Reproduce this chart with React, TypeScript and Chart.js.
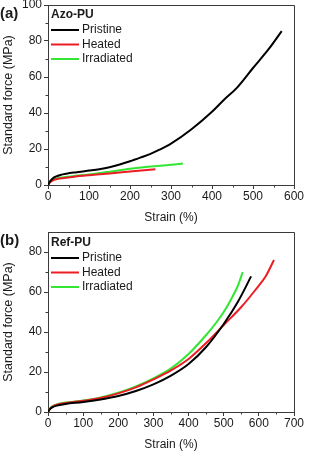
import React, { useEffect, useRef } from 'react';
import { Chart, registerables } from 'chart.js';

Chart.register(...registerables);

const FONT = "'Liberation Sans', Arial, Helvetica, sans-serif";
const AXIS = '#3a3a3a';
const TEXT = '#1a1a1a';

const seriesNames = ['Pristine', 'Heated', 'Irradiated'];
const seriesColors = ['#000000', '#ec1c24', '#33e633'];

// Panel (a) Azo-PU
const aPristineStrain = [0, 5, 12, 20, 30, 45, 70, 100, 125, 150, 175, 200, 225, 250, 272, 300, 350, 400, 430, 460, 500, 540, 570];
const aPristineForce = [0, 2.0, 3.8, 4.8, 5.6, 6.3, 7.1, 8.0, 8.8, 9.9, 11.4, 13.2, 15.2, 17.3, 19.6, 23.0, 31.0, 40.7, 47.5, 53.8, 65, 76, 85.5];
const aHeatedStrain = [0, 5, 12, 20, 35, 60, 100, 150, 200, 262];
const aHeatedForce = [0, 1.5, 2.6, 3.2, 3.8, 4.5, 5.4, 6.4, 7.5, 8.7];
const aIrradStrain = [0, 5, 12, 20, 35, 60, 100, 150, 200, 250, 300, 329];
const aIrradForce = [0, 1.8, 3.0, 3.6, 4.2, 4.9, 5.9, 7.4, 9.0, 10.3, 11.2, 12.0];

// Panel (b) Ref-PU
const bPristineStrain = [0, 5, 12, 25, 50, 100, 150, 200, 250, 300, 350, 400, 450, 500, 540, 578];
const bPristineForce = [0, 1.3, 2.3, 3.2, 4.0, 5.0, 6.3, 8.0, 10.5, 13.8, 18.2, 24, 32.5, 44, 55, 67.8];
const bHeatedStrain = [0, 5, 12, 25, 50, 100, 150, 200, 250, 300, 350, 400, 450, 500, 550, 590, 620, 643];
const bHeatedForce = [0, 1.5, 2.6, 3.6, 4.5, 5.6, 7.0, 9.3, 12.3, 16.3, 20.8, 26.5, 34.5, 43.5, 52.5, 61, 68, 76];
const bIrradStrain = [0, 5, 12, 25, 50, 100, 150, 200, 250, 300, 350, 400, 450, 480, 500, 520, 540, 554];
const bIrradForce = [0, 1.6, 2.8, 3.8, 4.7, 5.8, 7.3, 9.6, 12.8, 16.8, 21.8, 29, 38.5, 45, 50, 56, 63, 70];

const aXTicks = { min: 0, max: 600, step: 100, minor: [50, 150, 250, 350, 450, 550] };
const aYTicks = { min: 0, max: 100, step: 20, minor: [10, 30, 50, 70, 90] };
const bXTicks = { min: 0, max: 700, step: 100, minor: [50, 150, 250, 350, 450, 550, 650] };
const bYTicks = { min: 0, max: 90, step: 20, minor: [10, 30, 50, 70] };

const xTitle = 'Strain (%)';
const yTitle = 'Standard force (MPa)';

const zip = (xs: number[], ys: number[]) => xs.map((x, i) => ({ x, y: ys[i] }));

const decorPlugin = {
  id: 'decor',
  afterDraw(chart: any, _args: any, opts: any) {
    const { ctx, chartArea: a, scales } = chart;
    ctx.save();
    ctx.strokeStyle = AXIS;
    ctx.lineWidth = 1;
    // top and right frame
    ctx.beginPath();
    ctx.moveTo(a.left, Math.round(a.top) + 0.5);
    ctx.lineTo(Math.round(a.right) + 0.5, Math.round(a.top) + 0.5);
    ctx.lineTo(Math.round(a.right) + 0.5, a.bottom);
    ctx.stroke();
    // minor ticks
    ctx.beginPath();
    (opts.xMinor || []).forEach((v: number) => {
      const px = Math.round(scales.x.getPixelForValue(v)) + 0.5;
      ctx.moveTo(px, a.bottom);
      ctx.lineTo(px, a.bottom + 2.5);
    });
    (opts.yMinor || []).forEach((v: number) => {
      const py = Math.round(scales.y.getPixelForValue(v)) + 0.5;
      ctx.moveTo(a.left, py);
      ctx.lineTo(a.left - 2.5, py);
    });
    ctx.stroke();
    // legend (series order)
    const lx = a.left + 3;
    let ly = a.top + opts.legendTop;
    ctx.textBaseline = 'middle';
    ctx.textAlign = 'left';
    ctx.fillStyle = TEXT;
    ctx.font = `bold 12px ${FONT}`;
    ctx.fillText(opts.title, lx, ly);
    ctx.font = `12px ${FONT}`;
    ly += 15;
    const items = chart.data.datasets.slice().sort((p: any, q: any) => p.order - q.order);
    items.forEach((ds: any) => {
      ctx.strokeStyle = ds.borderColor;
      ctx.lineWidth = 2;
      ctx.beginPath();
      ctx.moveTo(lx, ly);
      ctx.lineTo(lx + 28, ly);
      ctx.stroke();
      ctx.fillStyle = TEXT;
      ctx.fillText(ds.label, lx + 31, ly);
      ly += 14.5;
    });
    ctx.restore();
  },
};

type PanelProps = {
  top: number;
  height: number;
  padTop: number;
  xHeight: number;
  xTitlePad: number;
  series: { x: number[]; y: number[] }[];
  xt: { min: number; max: number; step: number; minor: number[] };
  yt: { min: number; max: number; step: number; minor: number[] };
  title: string;
  legendTop: number;
};

function Panel(p: PanelProps) {
  const ref = useRef<HTMLCanvasElement>(null);
  useEffect(() => {
    if (!ref.current) return;
    const onlySteps = (step: number) => (s: any) => {
      s.ticks = s.ticks.filter((t: any) => Math.abs(t.value / step - Math.round(t.value / step)) < 1e-6);
    };
    const chart = new Chart(ref.current, {
      type: 'line',
      data: {
        datasets: p.series.map((s, i) => ({
          label: seriesNames[i],
          order: i,
          data: zip(s.x, s.y),
          borderColor: seriesColors[i],
          backgroundColor: seriesColors[i],
          borderWidth: 2,
          pointRadius: 0,
          cubicInterpolationMode: 'monotone' as const,
          fill: false,
        })),
      },
      options: {
        responsive: false,
        animation: false,
        devicePixelRatio: 1,
        layout: { padding: { top: p.padTop, right: 15, left: 0, bottom: 0 } },
        plugins: {
          legend: { display: false },
          tooltip: { enabled: false },
          decor: { xMinor: p.xt.minor, yMinor: p.yt.minor, title: p.title, legendTop: p.legendTop },
        } as any,
        scales: {
          x: {
            type: 'linear',
            min: p.xt.min,
            max: p.xt.max,
            afterBuildTicks: onlySteps(p.xt.step),
            afterFit: (s: any) => { s.height = p.xHeight; s.paddingLeft = 0; s.paddingRight = 0; },
            ticks: { stepSize: p.xt.step, color: TEXT, font: { family: FONT, size: 12 }, padding: 0, maxRotation: 0 },
            grid: { drawOnChartArea: false, drawTicks: true, tickLength: 4, color: AXIS },
            border: { display: true, color: AXIS, width: 1 },
            title: { display: true, text: xTitle, color: TEXT, font: { family: FONT, size: 12 }, padding: { top: 0, bottom: p.xTitlePad } },
          },
          y: {
            type: 'linear',
            min: p.yt.min,
            max: p.yt.max,
            afterBuildTicks: onlySteps(p.yt.step),
            afterFit: (s: any) => { s.width = 48; s.paddingTop = 0; s.paddingBottom = 0; },
            ticks: { stepSize: p.yt.step, color: TEXT, font: { family: FONT, size: 12 }, padding: 2 },
            grid: { drawOnChartArea: false, drawTicks: true, tickLength: 4, color: AXIS },
            border: { display: true, color: AXIS, width: 1 },
            title: { display: true, text: yTitle, color: TEXT, font: { family: FONT, size: 12.5 }, padding: { top: 1, bottom: 0 } },
          },
        },
      },
      plugins: [decorPlugin],
    } as any);
    return () => chart.destroy();
  }, []);
  return (
    <div style={{ position: 'absolute', left: 0, top: p.top, width: 309, height: p.height }}>
      <canvas ref={ref} width={309} height={p.height} style={{ display: 'block' }} />
    </div>
  );
}

export default function App() {
  return (
    <div style={{ position: 'absolute', left: 0, top: 0, width: 309, height: 455, background: '#fff', overflow: 'hidden' }}>
      <Panel
        top={0}
        height={228}
        padTop={5}
        xHeight={43}
        xTitlePad={3}
        series={[
          { x: aPristineStrain, y: aPristineForce },
          { x: aHeatedStrain, y: aHeatedForce },
          { x: aIrradStrain, y: aIrradForce },
        ]}
        xt={aXTicks}
        yt={aYTicks}
        title="Azo-PU"
        legendTop={10}
      />
      <Panel
        top={225}
        height={230}
        padTop={7}
        xHeight={43}
        xTitlePad={3}
        series={[
          { x: bPristineStrain, y: bPristineForce },
          { x: bHeatedStrain, y: bHeatedForce },
          { x: bIrradStrain, y: bIrradForce },
        ]}
        xt={bXTicks}
        yt={bYTicks}
        title="Ref-PU"
        legendTop={11}
      />
      <div style={{ position: 'absolute', left: 0, top: 4, font: `bold 15px ${FONT}`, color: TEXT, lineHeight: '18px' }}>(a)</div>
      <div style={{ position: 'absolute', left: 0, top: 231, font: `bold 15px ${FONT}`, color: TEXT, lineHeight: '18px' }}>(b)</div>
    </div>
  );
}
